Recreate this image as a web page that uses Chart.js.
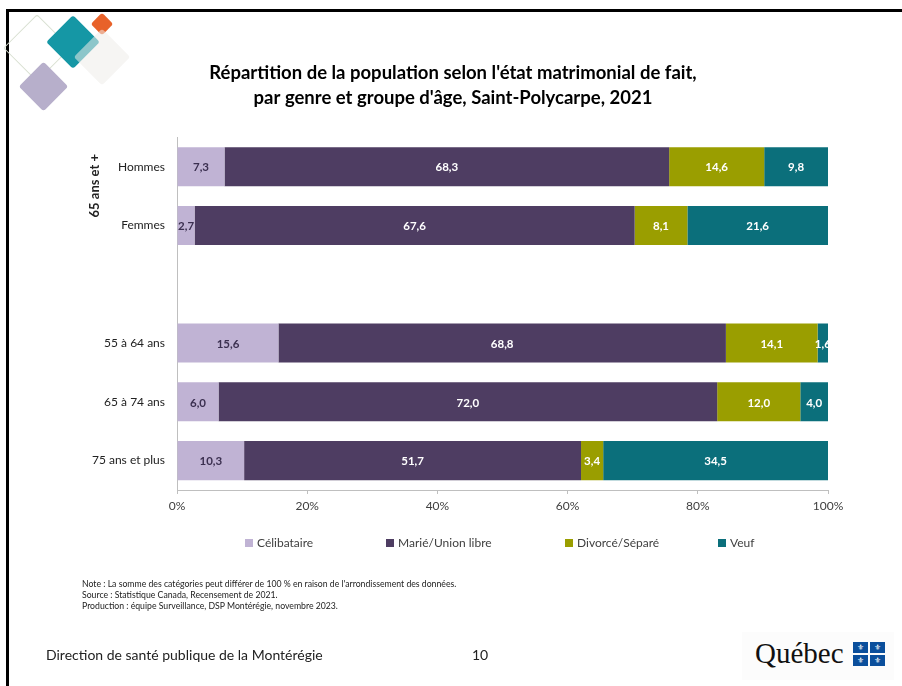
<!DOCTYPE html>
<html>
<head>
<meta charset="utf-8">
<script src="https://cdn.jsdelivr.net/npm/chart.js@4.4.1/dist/chart.umd.min.js"></script>
<style>
    body { margin: 0; background: #fff; font-family: Lato, 'Open Sans', sans-serif; }
    #page { position: relative; width: 902px; height: 686px; overflow: hidden; }
    #frame { position: absolute; left: 6px; top: 9px; width: 1000px; height: 1000px; border-left: 3px solid #000; border-top: 3px solid #000; }
    .dia { position: absolute; transform: rotate(45deg); border-radius: 3px; }
    #chartCanvas { position: absolute; left: 0; top: 0; }
    #legend { position: absolute; left: 0; top: 535px; width: 902px; height: 16px; }
    .lg-item { position: absolute; top: 0; display: flex; align-items: center; font-size: 12px; color: #404040; white-space: nowrap; }
    .lg-box { width: 8px; height: 8px; margin-right: 4px; }
    #notes { position: absolute; left: 82px; top: 578px; font-size: 8.7px; line-height: 11px; color: #222; }
    #footer { position: absolute; left: 46px; top: 646px; font-size: 14px; color: #222; }
    #pageNum { position: absolute; left: 472px; top: 646px; font-size: 14px; color: #222; }
    #logo { position: absolute; left: 742px; top: 632px; width: 152px; height: 48px; background: #fcfcfc; }
    #logoText { position: absolute; left: 13px; top: 5px; font-family: 'Liberation Serif', 'DejaVu Serif', serif; font-size: 29px; color: #111; }
    .flag { position: absolute; width: 15px; height: 11px; background: #0b4f9c; color: #fff; font-family: 'DejaVu Sans', sans-serif; font-size: 8px; line-height: 11px; text-align: center; }
</style>
</head>
<body>
<div id="page">
    <div id="frame"></div>
    <!-- decorative diamonds, top left -->
    <div class="dia" style="left:13px;top:24px;width:46px;height:46px;border:1.5px solid #d9e0d2;"></div>
    <div class="dia" style="left:54px;top:23px;width:38px;height:38px;background:#1597a5;"></div>
    <div class="dia" style="left:94px;top:16px;width:16px;height:16px;background:#e8622a;"></div>
    <div class="dia" style="left:82px;top:37px;width:40px;height:40px;background:rgba(238,236,234,0.55);"></div>
    <div class="dia" style="left:26px;top:69px;width:35px;height:35px;background:#b7afcb;"></div>

    <canvas id="chartCanvas" width="902" height="686"></canvas>
    <div id="legend"></div>

    <div id="notes">
        Note : La somme des catégories peut différer de 100 % en raison de l'arrondissement des données.<br>
        Source : Statistique Canada, Recensement de 2021.<br>
        Production : équipe Surveillance, DSP Montérégie, novembre 2023.
    </div>
    <div id="footer">Direction de santé publique de la Montérégie</div>
    <div id="pageNum">10</div>
    <div id="logo">
        <div id="logoText">Québec</div>
        <div class="flag" style="left:111px;top:10px;">⚜</div>
        <div class="flag" style="left:128px;top:10px;">⚜</div>
        <div class="flag" style="left:111px;top:23px;">⚜</div>
        <div class="flag" style="left:128px;top:23px;">⚜</div>
    </div>
</div>

<script>
const titleLines = ["Répartition de la population selon l'état matrimonial de fait,", "par genre et groupe d'âge, Saint-Polycarpe, 2021"];
const categories = ['Hommes', 'Femmes', '', '55 à 64 ans', '65 à 74 ans', '75 ans et plus'];
const groupLabel = '65 ans et +';
const seriesNames = ['Célibataire', 'Marié/Union libre', 'Divorcé/Séparé', 'Veuf'];
const celibataire = [7.3, 2.7, null, 15.6, 6.0, 10.3];
const marie = [68.3, 67.6, null, 68.8, 72.0, 51.7];
const divorce = [14.6, 8.1, null, 14.1, 12.0, 3.4];
const veuf = [9.8, 21.6, null, 1.6, 4.0, 34.5];
const xTicks = [0, 20, 40, 60, 80, 100];

const colors = ['#c0b3d4', '#4e3d62', '#9a9e00', '#0b6f7b'];
const labelColors = ['#3b3050', '#ffffff', '#ffffff', '#ffffff'];
const FONT = "Lato, 'Open Sans', sans-serif";

// 100% stacked like Excel: each row scaled to its own total
const raw = [celibataire, marie, divorce, veuf];
const rowTotals = categories.map((c, i) => raw.reduce((s, arr) => s + (arr[i] || 0), 0));
const shares = raw.map(arr => arr.map((v, i) => v === null ? null : v / rowTotals[i] * 100));

const fmt = v => v.toFixed(1).replace('.', ',');

const barLabels = {
    id: 'barLabels',
    afterDatasetsDraw(chart) {
        const ctx = chart.ctx;
        ctx.save();
        ctx.font = 'bold 11.5px ' + FONT;
        ctx.textAlign = 'center';
        ctx.textBaseline = 'middle';
        chart.data.datasets.forEach((ds, di) => {
            const meta = chart.getDatasetMeta(di);
            meta.data.forEach((el, i) => {
                const v = raw[di][i];
                if (v === null) return;
                ctx.fillStyle = labelColors[di];
                ctx.fillText(fmt(v), (el.x + el.base) / 2, el.y + 1);
            });
        });
        ctx.restore();
    }
};

const groupAxisLabel = {
    id: 'groupAxisLabel',
    afterDraw(chart) {
        const y = chart.scales.y;
        const ctx = chart.ctx;
        const cy = y.getPixelForValue(0) + 19;
        ctx.save();
        ctx.translate(95, cy);
        ctx.rotate(-Math.PI / 2);
        ctx.font = 'bold 13px ' + FONT;
        ctx.fillStyle = '#222';
        ctx.textAlign = 'center';
        ctx.textBaseline = 'middle';
        ctx.fillText(groupLabel, 0, 0);
        ctx.restore();
    }
};

const chart = new Chart(document.getElementById('chartCanvas'), {
    type: 'bar',
    data: {
        labels: categories,
        datasets: seriesNames.map((name, i) => ({
            label: name,
            data: shares[i],
            backgroundColor: colors[i],
            borderWidth: 0,
            barPercentage: 0.665,
            categoryPercentage: 1
        }))
    },
    options: {
        indexAxis: 'y',
        responsive: false,
        animation: false,
        layout: { padding: { left: 78, right: 74, top: 60, bottom: 166 } },
        plugins: {
            legend: { display: false },
            tooltip: { enabled: false },
            title: {
                display: true,
                text: titleLines,
                color: '#000',
                font: { family: FONT, size: 18.5, weight: 'bold', lineHeight: 1.36 },
                padding: { top: 0, bottom: 27 }
            }
        },
        scales: {
            x: {
                stacked: true,
                min: 0,
                max: 100,
                afterBuildTicks: s => { s.ticks = xTicks.map(v => ({ value: v })); },
                afterFit: s => { s.height = 30; },
                grid: { display: true, drawOnChartArea: false, drawTicks: true, tickLength: 4, color: '#bfbfbf' },
                border: { display: true, color: '#bfbfbf' },
                ticks: { callback: v => v + '%', color: '#404040', font: { family: FONT, size: 12 }, padding: 5, maxRotation: 0 }
            },
            y: {
                stacked: true,
                afterFit: s => { s.width = 99; },
                grid: { display: false },
                border: { display: true, color: '#bfbfbf' },
                ticks: { color: '#222', font: { family: FONT, size: 12 }, padding: 4 }
            }
        }
    },
    plugins: [barLabels, groupAxisLabel]
});

// legend built from the datasets
const legendLefts = [245, 386, 565, 718];
const legend = document.getElementById('legend');
chart.data.datasets.forEach((ds, i) => {
    const item = document.createElement('div');
    item.className = 'lg-item';
    item.style.left = legendLefts[i] + 'px';
    item.innerHTML = `<span class="lg-box" style="background:${ds.backgroundColor}"></span>${ds.label}`;
    legend.appendChild(item);
});
</script>
</body>
</html>
